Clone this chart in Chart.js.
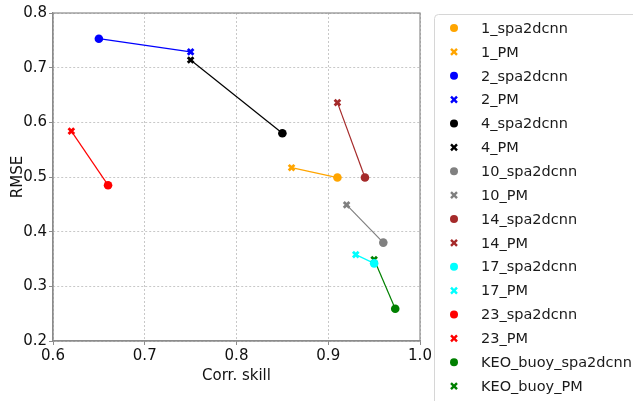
<!DOCTYPE html>
<html>
<head>
<meta charset="utf-8">
<script src="https://cdn.jsdelivr.net/npm/chart.js@4.4.1/dist/chart.umd.min.js"></script>
<style>
  html, body { margin: 0; padding: 0; background: #fff; }
  #wrap { width: 633px; height: 401px; position: relative; }
</style>
</head>
<body>
<div id="wrap"><canvas id="scoreChart"></canvas></div>
<script>
const stations = ['1', '2', '4', '10', '14', '17', '23', 'KEO_buoy'];
const colors = ['#ffa500', '#0000ff', '#000000', '#808080', '#a52a2a', '#00ffff', '#ff0000', '#008000'];
const spaCorr = [0.910, 0.650, 0.850, 0.960, 0.940, 0.950, 0.660, 0.973];
const spaRmse = [0.499, 0.753, 0.580, 0.380, 0.499, 0.342, 0.485, 0.259];
const pmCorr = [0.860, 0.750, 0.750, 0.920, 0.910, 0.930, 0.620, 0.950];
const pmRmse = [0.517, 0.729, 0.714, 0.449, 0.636, 0.358, 0.584, 0.349];
const xTicks = [0.6, 0.7, 0.8, 0.9, 1.0];
const yTicks = [0.2, 0.3, 0.4, 0.5, 0.6, 0.7, 0.8];

const FONT = 'DejaVu Sans';

const datasets = [];
stations.forEach((s, i) => {
  datasets.push({
    label: '',
    legend: false,
    data: [{ x: spaCorr[i], y: spaRmse[i] }, { x: pmCorr[i], y: pmRmse[i] }],
    showLine: true,
    borderColor: colors[i],
    borderWidth: 1.2,
    pointRadius: 0,
    order: 2
  });
});
stations.forEach((s, i) => {
  datasets.push({
    label: s + '_spa2dcnn',
    legend: true,
    data: [{ x: spaCorr[i], y: spaRmse[i] }],
    pointStyle: 'circle',
    pointRadius: 4.3,
    backgroundColor: colors[i],
    borderColor: colors[i],
    borderWidth: 0,
    order: 1
  });
  datasets.push({
    label: s + '_PM',
    legend: true,
    data: [{ x: pmCorr[i], y: pmRmse[i] }],
    pointStyle: 'crossRot',
    pointRadius: 4,
    backgroundColor: colors[i],
    borderColor: colors[i],
    borderWidth: 2.8,
    order: 1
  });
});

// frame around plot + boxed legend on the right
const framePlugin = {
  id: 'frame',
  afterDraw(chart) {
    const { ctx, chartArea: a } = chart;
    ctx.save();
    ctx.strokeStyle = '#8c8c8c';
    ctx.lineWidth = 1.2;
    ctx.strokeRect(a.left, a.top, a.right - a.left, a.bottom - a.top);

    // legend
    const lx = 434, ly = 14, lw = 210, lh = 400;
    ctx.strokeStyle = '#d6d6d6';
    ctx.lineWidth = 1;
    ctx.beginPath();
    ctx.roundRect(lx + 0.5, ly + 0.5, lw, lh, 4);
    ctx.stroke();

    const items = chart.data.datasets.filter(d => d.legend);
    ctx.font = '14.5px ' + FONT;
    ctx.textBaseline = 'middle';
    ctx.textAlign = 'left';
    items.forEach((d, k) => {
      const y = 28 + k * 23.87;
      const mx = 454;
      ctx.fillStyle = d.backgroundColor;
      ctx.strokeStyle = d.borderColor;
      if (d.pointStyle === 'circle') {
        ctx.beginPath();
        ctx.arc(mx, y, 4, 0, Math.PI * 2);
        ctx.fill();
      } else {
        ctx.lineWidth = 2.4;
        ctx.beginPath();
        ctx.moveTo(mx - 3, y - 3); ctx.lineTo(mx + 3, y + 3);
        ctx.moveTo(mx - 3, y + 3); ctx.lineTo(mx + 3, y - 3);
        ctx.stroke();
      }
      ctx.fillStyle = '#1a1a1a';
      ctx.fillText(d.label, 481, y + 1);
    });
    ctx.restore();
  }
};

new Chart(document.getElementById('scoreChart'), {
  type: 'scatter',
  data: { datasets },
  options: {
    responsive: true,
    maintainAspectRatio: false,
    animation: false,
    layout: { padding: { top: 13, right: 213, left: 0, bottom: 0 } },
    plugins: { legend: { display: false }, tooltip: { enabled: false } },
    scales: {
      x: {
        min: 0.6, max: 1.0,
        afterFit(scale) { scale.height = 60; },
        afterBuildTicks(scale) { scale.ticks = xTicks.map(v => ({ value: v })); },
        ticks: {
          color: '#111',
          font: { family: FONT, size: 15 },
          padding: 2,
          callback: v => v.toFixed(1)
        },
        grid: { color: '#c8c8c8', tickLength: 4, tickColor: '#8c8c8c', tickBorderDash: [] },
        border: { display: true, color: '#8c8c8c', width: 1.2, dash: [2, 2] },
        title: { display: true, text: 'Corr. skill', color: '#111', font: { family: FONT, size: 15 }, padding: { top: 0, bottom: 16 } }
      },
      y: {
        min: 0.2, max: 0.8,
        afterFit(scale) { scale.width = 53; },
        afterBuildTicks(scale) { scale.ticks = yTicks.map(v => ({ value: v })); },
        ticks: {
          color: '#111',
          font: { family: FONT, size: 15 },
          padding: 2,
          callback: v => v.toFixed(1)
        },
        grid: { color: '#c8c8c8', tickLength: 4, tickColor: '#8c8c8c', tickBorderDash: [] },
        border: { display: true, color: '#8c8c8c', width: 1.2, dash: [2, 2] },
        title: { display: true, text: 'RMSE', color: '#111', font: { family: FONT, size: 15 }, padding: { top: 9, bottom: 0 } }
      }
    }
  },
  plugins: [framePlugin]
});
</script>
</body>
</html>
